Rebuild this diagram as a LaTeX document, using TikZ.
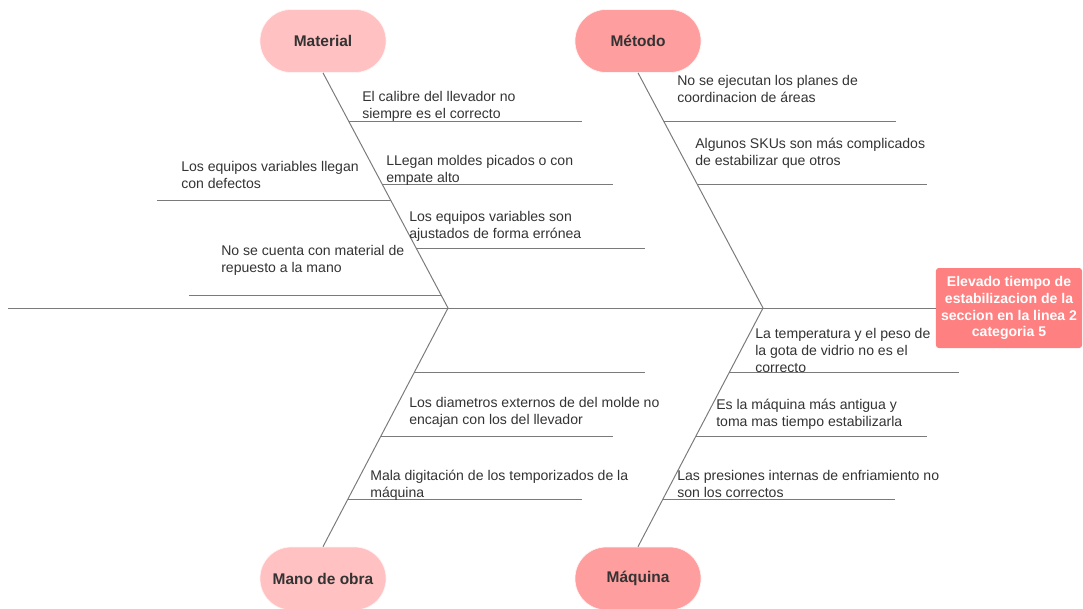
\documentclass[tikz,border=0pt]{standalone}
\usepackage{fontspec}
\setmainfont{Liberation Sans}
\usepackage{tikz}
\definecolor{pinklight}{HTML}{FFC1C1}
\definecolor{pinkmid}{HTML}{FF9E9E}
\definecolor{headred}{HTML}{FF8080}
\definecolor{bonegray}{HTML}{7A7A7A}
\definecolor{txtgray}{HTML}{333333}
\tikzset{category/.style = {rounded corners = 0.78cm, minimum width = 3.15cm,
                            minimum height = 1.575cm, inner sep = 0pt,
                            draw = white!80!pinklight, line width = 0.5pt,
                            text = txtgray, font = \bfseries\fontsize{11}{13}\selectfont},
         effect/.style = {rounded corners = 2pt, minimum width = 3.65cm,
                          minimum height = 2cm, inner sep = 0pt, fill = headred,
                          text = white, align = center,
                          font = \bfseries\fontsize{10}{12}\selectfont},
         cause/.style = {anchor = north west, align = left, inner sep = 0pt,
                         text = txtgray, font = \fontsize{10}{12}\selectfont},
         bone/.style = {draw = bonegray, line width = 0.7pt}}

\begin{document}
\begin{tikzpicture}[x = 0.025cm, y = -0.025cm]
      \useasboundingbox (0, 0) rectangle (1083, 608);

      \node [category, fill = pinklight] (material) at (323, 41) {Material};
      \node [category, fill = pinkmid] (metodo) at (638, 41) {Método};
      \node [category, fill = pinklight] (mano) at (323, 578.5) {Mano de obra};
      \node [category, fill = pinkmid] (maquina) at (638, 578.5) {Máquina};
      \node [effect] (efecto) at (1009, 308)
            {Elevado tiempo de\\estabilizacion de la\\seccion en la linea 2\\categoria 5};

      \coordinate (cola) at (8, 308);
      \coordinate (jmat) at (448, 308);
      \coordinate (jmet) at (763, 308);
      \draw [bone] (cola) -- (efecto.west);

      % espinas
      \draw [bone] (material.south) -- (jmat)
            coordinate [pos = 0.206] (mat1) coordinate [pos = 0.473] (mat2)
            coordinate [pos = 0.541] (mat3) coordinate [pos = 0.745] (mat4)
            coordinate [pos = 0.945] (mat5);
      \draw [bone] (metodo.south) -- (jmet)
            coordinate [pos = 0.206] (met1) coordinate [pos = 0.473] (met2);
      \draw [bone] (jmat) -- (mano.north)
            coordinate [pos = 0.272] (man1) coordinate [pos = 0.540] (man2)
            coordinate [pos = 0.803] (man3);
      \draw [bone] (jmet) -- (maquina.north)
            coordinate [pos = 0.272] (maq1) coordinate [pos = 0.540] (maq2)
            coordinate [pos = 0.803] (maq3);

      \draw [bone] (mat1) -- (mat1 -| 582, 0);
      \draw [bone] (mat2) -- (mat2 -| 613, 0);
      \draw [bone] (mat3) -- (mat3 -| 157, 0);
      \draw [bone] (mat4) -- (mat4 -| 645, 0);
      \draw [bone] (mat5) -- (mat5 -| 189, 0);
      \draw [bone] (met1) -- (met1 -| 896, 0);
      \draw [bone] (met2) -- (met2 -| 927, 0);
      \draw [bone] (man1) -- (man1 -| 645, 0);
      \draw [bone] (man2) -- (man2 -| 613, 0);
      \draw [bone] (man3) -- (man3 -| 582, 0);
      \draw [bone] (maq1) -- (maq1 -| 959, 0);
      \draw [bone] (maq2) -- (maq2 -| 927, 0);
      \draw [bone] (maq3) -- (maq3 -| 895, 0);

      % causas
      \node [cause] (c1) at (362, 91) {El calibre del llevador no\\siempre es el correcto};
      \node [cause] (c2) at (386, 155) {LLegan moldes picados o con\\empate alto};
      \node [cause] (c3) at (181, 161) {Los equipos variables llegan\\con defectos};
      \node [cause] (c4) at (409, 211) {Los equipos variables son\\ajustados de forma errónea};
      \node [cause] (c5) at (221, 245) {No se cuenta con material de\\repuesto a la mano};
      \node [cause] (c6) at (677, 75) {No se ejecutan los planes de\\coordinacion de áreas};
      \node [cause] (c7) at (695, 138) {Algunos SKUs son más complicados\\de estabilizar que otros};
      \node [cause] (c8) at (409, 397) {Los diametros externos de del molde no\\encajan con los del llevador};
      \node [cause] (c9) at (370, 470) {Mala digitación de los temporizados de la\\máquina};
      \node [cause] (c10) at (755, 328) {La temperatura y el peso de\\la gota de vidrio no es el\\correcto};
      \node [cause] (c11) at (716, 399) {Es la máquina más antigua y\\toma mas tiempo estabilizarla};
      \node [cause] (c12) at (677, 470) {Las presiones internas de enfriamiento no\\son los correctos};
\end{tikzpicture}
\end{document}
